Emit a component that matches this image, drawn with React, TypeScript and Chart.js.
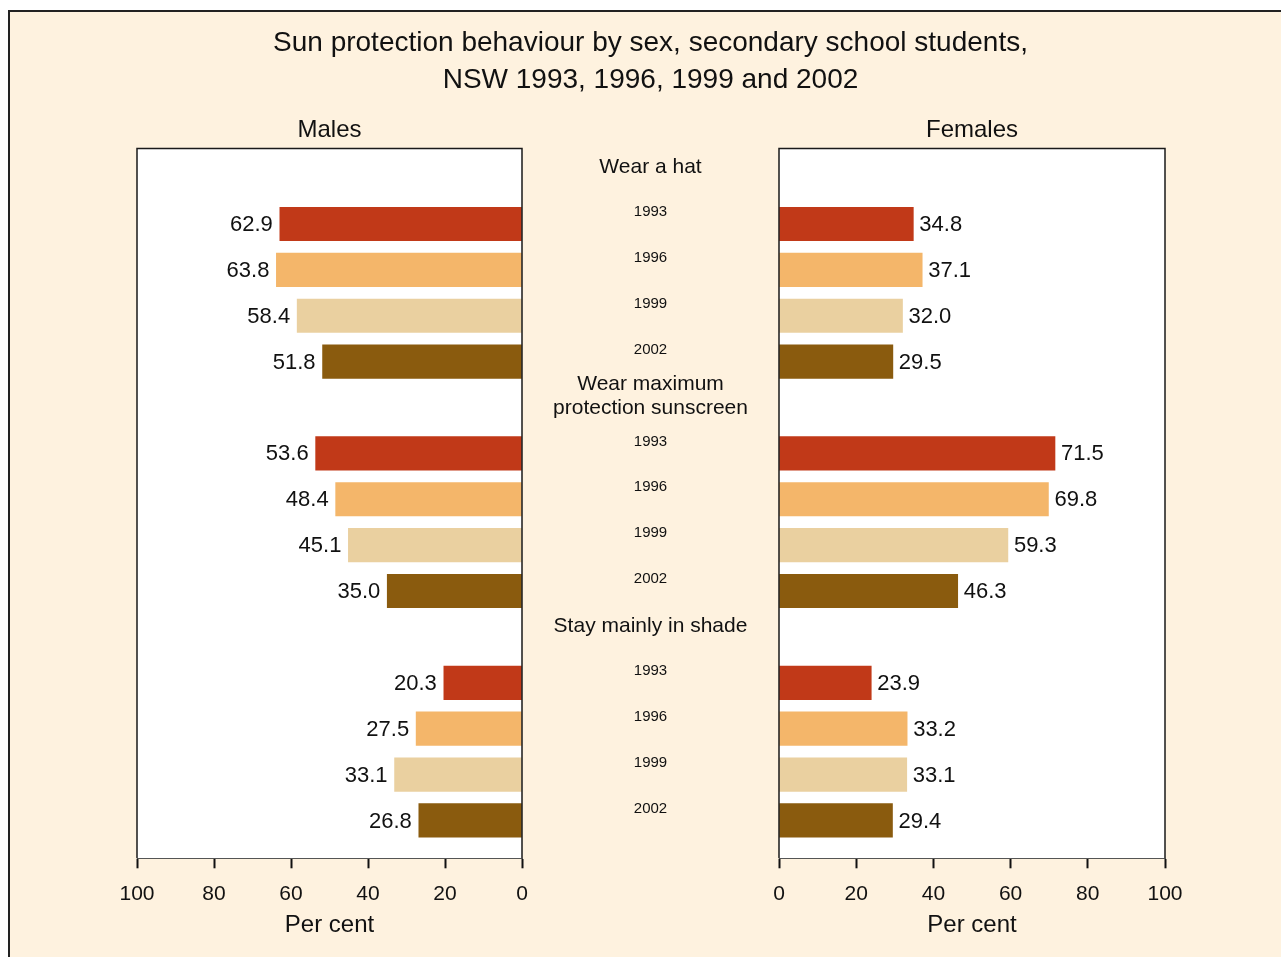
import React, { useEffect, useRef } from 'react';
import { Chart, registerables } from 'chart.js';

Chart.register(...registerables);

// Survey years and their bar colours
const years = ['1993', '1996', '1999', '2002'];
const yearColors = ['#C13918', '#F4B66A', '#EAD0A0', '#8A5B0E'];

// Behaviour groups (multi-line headings as arrays of lines)
const behaviours = [['Wear a hat'], ['Wear maximum', 'protection sunscreen'], ['Stay mainly in shade']];

// Per cent of students, one array per year, ordered as behaviours
const males1993 = [62.9, 53.6, 20.3];
const males1996 = [63.8, 48.4, 27.5];
const males1999 = [58.4, 45.1, 33.1];
const males2002 = [51.8, 35.0, 26.8];

const females1993 = [34.8, 71.5, 23.9];
const females1996 = [37.1, 69.8, 33.2];
const females1999 = [32.0, 59.3, 33.1];
const females2002 = [29.5, 46.3, 29.4];

const xTicks = [0, 20, 40, 60, 80, 100];

const FONT = '"Liberation Sans", Arial, Helvetica, sans-serif';
const W = 1281;
const H = 957;

// each behaviour occupies one heading row followed by one row per year
const rowsPerGroup = years.length + 1;
const rowOf = (group: number, yearIdx: number) => group * rowsPerGroup + 1 + yearIdx;

type Side = 'left' | 'right';

const framePlugin = {
  id: 'frame',
  beforeDraw(chart: any) {
    const { ctx, chartArea: a } = chart;
    ctx.save();
    ctx.fillStyle = '#FFFFFF';
    ctx.fillRect(a.left, a.top, a.right - a.left, a.bottom - a.top);
    ctx.restore();
  },
  afterDatasetsDraw(chart: any) {
    const { ctx, chartArea: a } = chart;
    ctx.save();
    ctx.strokeStyle = '#1a1a1a';
    ctx.lineWidth = 1.5;
    ctx.beginPath();
    ctx.moveTo(a.left, a.bottom);
    ctx.lineTo(a.left, a.top);
    ctx.lineTo(a.right, a.top);
    ctx.lineTo(a.right, a.bottom);
    ctx.stroke();
    ctx.restore();
  },
};

const valueLabelPlugin = {
  id: 'valueLabels',
  afterDatasetsDraw(chart: any, _args: any, opts: any) {
    const { ctx } = chart;
    const side: Side = opts.side;
    ctx.save();
    ctx.font = `22px ${FONT}`;
    ctx.fillStyle = '#111111';
    ctx.textBaseline = 'middle';
    chart.data.datasets.forEach((ds: any, di: number) => {
      const meta = chart.getDatasetMeta(di);
      meta.data.forEach((bar: any, i: number) => {
        const v = ds.data[i].x as number;
        const txt = v.toFixed(1);
        if (side === 'left') {
          ctx.textAlign = 'right';
          ctx.fillText(txt, bar.x - 7, bar.y + 1);
        } else {
          ctx.textAlign = 'left';
          ctx.fillText(txt, bar.x + 6, bar.y + 1);
        }
      });
    });
    ctx.restore();
  },
};

const panelTitlePlugin = {
  id: 'panelTitle',
  afterDraw(chart: any, _args: any, opts: any) {
    const { ctx, chartArea: a } = chart;
    ctx.save();
    ctx.font = `24px ${FONT}`;
    ctx.fillStyle = '#111111';
    ctx.textAlign = 'center';
    ctx.textBaseline = 'middle';
    ctx.fillText(opts.text, (a.left + a.right) / 2, a.top - 18);
    ctx.restore();
  },
};

// Behaviour headings and year labels in the gap between the two panels
const middleLabelsPlugin = {
  id: 'middleLabels',
  afterDraw(chart: any, _args: any, opts: any) {
    if (!opts.enabled) return;
    const { ctx } = chart;
    const yScale = chart.scales.y;
    const cx = opts.x;
    ctx.save();
    ctx.fillStyle = '#111111';
    ctx.textAlign = 'center';
    ctx.textBaseline = 'middle';
    behaviours.forEach((lines, g) => {
      const yHead = yScale.getPixelForValue(g * rowsPerGroup) - 11;
      ctx.font = `21px ${FONT}`;
      const lh = 24;
      const start = yHead - ((lines.length - 1) * lh) / 2;
      lines.forEach((ln, li) => ctx.fillText(ln, cx, start + li * lh));
      ctx.font = `15px ${FONT}`;
      years.forEach((yr, yi) => {
        ctx.fillText(yr, cx, yScale.getPixelForValue(rowOf(g, yi)) - 12);
      });
    });
    ctx.restore();
  },
};

function buildConfig(side: Side, series: number[][], title: string, left: number, right: number, middle: boolean): any {
  const datasets = years.map((yr, yi) => ({
    label: yr,
    data: series[yi].map((v, g) => ({ x: v, y: rowOf(g, yi) })),
    backgroundColor: yearColors[yi],
    borderWidth: 0,
    barThickness: 33.5,
    grouped: false,
  }));
  return {
    type: 'bar',
    data: { datasets },
    plugins: [framePlugin, valueLabelPlugin, panelTitlePlugin, middleLabelsPlugin],
    options: {
      responsive: false,
      animation: false,
      indexAxis: 'y',
      layout: { padding: { left, right: W - right, top: 148.5, bottom: 17.6 } },
      plugins: {
        legend: { display: false },
        tooltip: { enabled: false },
        title: { display: false },
        valueLabels: { side },
        panelTitle: { text: title },
        middleLabels: { enabled: middle, x: 650.5 },
      },
      scales: {
        x: {
          type: 'linear',
          position: 'bottom',
          min: 0,
          max: 100,
          reverse: side === 'left',
          afterBuildTicks: (s: any) => {
            s.ticks = xTicks.map((v) => ({ value: v }));
          },
          afterFit: (s: any) => {
            s.height = 81.1;
          },
          ticks: {
            font: { family: FONT, size: 21 },
            color: '#111111',
            padding: 13,
            maxRotation: 0,
            autoSkip: false,
          },
          grid: {
            drawOnChartArea: false,
            drawTicks: true,
            tickLength: 10,
            tickWidth: 2,
            tickColor: '#111111',
          },
          border: { display: true, color: '#555555', width: 1 },
          title: {
            display: true,
            text: 'Per cent',
            font: { family: FONT, size: 24 },
            color: '#111111',
            padding: 0,
          },
        },
        y: {
          type: 'linear',
          display: false,
          reverse: true,
          offset: false,
          grid: { offset: false },
          min: -0.645,
          max: 14.825,
        },
      },
    },
  };
}

export default function App() {
  const leftRef = useRef<HTMLCanvasElement>(null);
  const rightRef = useRef<HTMLCanvasElement>(null);

  useEffect(() => {
    const males = [males1993, males1996, males1999, males2002];
    const females = [females1993, females1996, females1999, females2002];
    const lc = new Chart(leftRef.current as HTMLCanvasElement, buildConfig('left', males, 'Males', 137, 522, true));
    const rc = new Chart(rightRef.current as HTMLCanvasElement, buildConfig('right', females, 'Females', 779, 1165, false));
    return () => {
      lc.destroy();
      rc.destroy();
    };
  }, []);

  const layer: React.CSSProperties = { position: 'fixed', left: 0, top: 0, width: W, height: H };

  return (
    <div>
      <div
        style={{
          position: 'fixed',
          left: 8,
          top: 10,
          width: W - 8,
          height: H - 10,
          background: '#FEF2DF',
          borderTop: '2px solid #222',
          borderLeft: '2px solid #222',
          boxSizing: 'border-box',
        }}
      />
      <canvas ref={leftRef} width={W} height={H} style={layer} />
      <canvas ref={rightRef} width={W} height={H} style={layer} />
      <div
        style={{
          position: 'fixed',
          left: 0,
          top: 23,
          width: 1301,
          textAlign: 'center',
          fontFamily: FONT,
          fontSize: 28,
          lineHeight: '37px',
          color: '#111',
        }}
      >
        Sun protection behaviour by sex, secondary school students,
        <br />
        NSW 1993, 1996, 1999 and 2002
      </div>
    </div>
  );
}
